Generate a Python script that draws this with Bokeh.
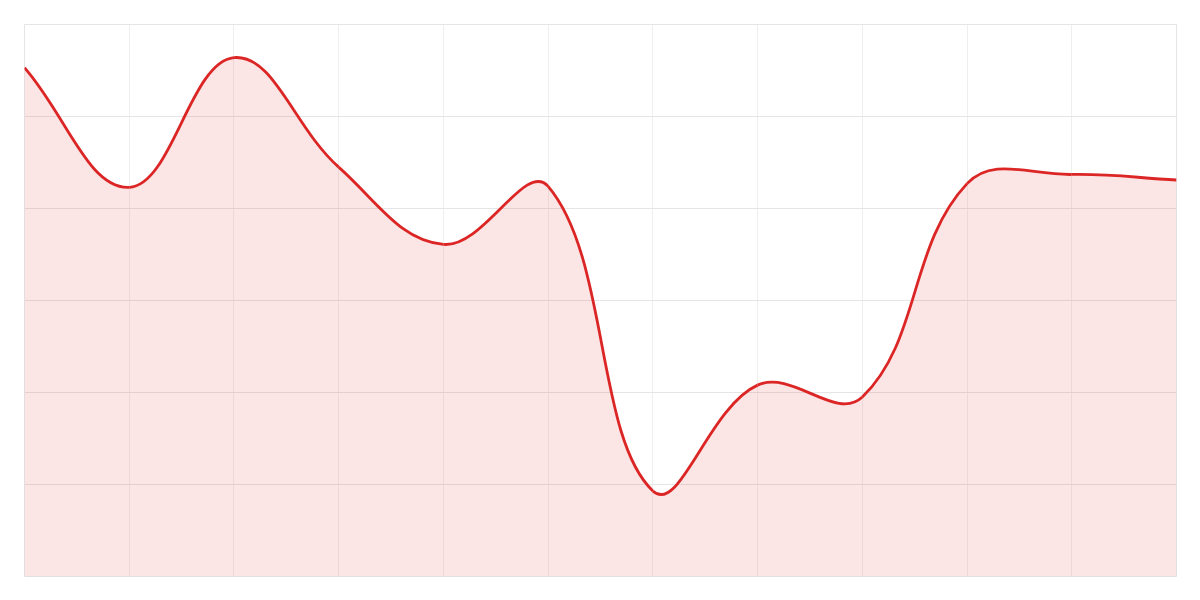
import numpy as np
from bokeh.plotting import figure
from bokeh.models import Range1d, FixedTicker
from bokeh.embed import file_html
from bokeh.resources import INLINE

# ---- data ----
labels = list(range(12))
values = [55.3, 42.3, 56.4, 44.5, 36.1, 42.4, 9.3, 20.8, 19.5, 42.7, 43.7, 43.1]
y_ticks = [0, 10, 20, 30, 40, 50, 60]

LINE = "#dc2626"
FILL = "#dc2626"
GRID = "#e5e5e5"

FRAME_W, FRAME_H = 1152, 552
X_MIN, X_MAX = 0, len(labels) - 1
Y_MIN, Y_MAX = 0, 60
sx = FRAME_W / (X_MAX - X_MIN)
sy = FRAME_H / (Y_MAX - Y_MIN)

# Chart.js-like spline (tension 0.4), control points computed in pixel space
T = 0.4
px = np.array(labels, float) * sx
py = np.array(values, float) * sy
n = len(px)
cpL = np.zeros((n, 2))
cpR = np.zeros((n, 2))
for i in range(n):
    prev = (px[i - 1], py[i - 1]) if i > 0 else (px[i], py[i])
    nxt = (px[i + 1], py[i + 1]) if i < n - 1 else (px[i], py[i])
    cur = (px[i], py[i])
    d01 = np.hypot(cur[0] - prev[0], cur[1] - prev[1])
    d12 = np.hypot(nxt[0] - cur[0], nxt[1] - cur[1])
    s01 = d01 / (d01 + d12) if (d01 + d12) else 0
    s12 = d12 / (d01 + d12) if (d01 + d12) else 0
    fa, fb = T * s01, T * s12
    cpL[i] = (cur[0] - fa * (nxt[0] - prev[0]), cur[1] - fa * (nxt[1] - prev[1]))
    cpR[i] = (cur[0] + fb * (nxt[0] - prev[0]), cur[1] + fb * (nxt[1] - prev[1]))

x0 = px[:-1] / sx; y0 = py[:-1] / sy
x1 = px[1:] / sx; y1 = py[1:] / sy
cx0 = cpR[:-1, 0] / sx; cy0 = cpR[:-1, 1] / sy
cx1 = cpL[1:, 0] / sx; cy1 = cpL[1:, 1] / sy

# sampled curve for the area fill
t = np.linspace(0, 1, 40)[:, None]
bx = ((1 - t) ** 3 * x0 + 3 * (1 - t) ** 2 * t * cx0 + 3 * (1 - t) * t ** 2 * cx1 + t ** 3 * x1).T.ravel()
by = ((1 - t) ** 3 * y0 + 3 * (1 - t) ** 2 * t * cy0 + 3 * (1 - t) * t ** 2 * cy1 + t ** 3 * y1).T.ravel()

p = figure(width=FRAME_W + 40, height=FRAME_H + 40, output_backend="svg",
           toolbar_location=None,
           x_range=Range1d(X_MIN, X_MAX), y_range=Range1d(Y_MIN, Y_MAX),
           min_border_left=24, min_border_right=16, min_border_top=24, min_border_bottom=16)
p.xaxis.visible = False
p.yaxis.visible = False
p.outline_line_color = GRID
p.outline_line_width = 1
p.background_fill_color = "white"
p.border_fill_color = "white"

p.xgrid.ticker = FixedTicker(ticks=labels)
p.ygrid.ticker = FixedTicker(ticks=y_ticks)
p.xgrid.grid_line_color = GRID
p.ygrid.grid_line_color = GRID
p.xgrid.grid_line_alpha = 0.6
p.ygrid.grid_line_alpha = 1.0

p.varea(x=bx, y1=np.zeros_like(by), y2=by, fill_color=FILL, fill_alpha=0.12)
p.bezier(x0=x0, y0=y0, x1=x1, y1=y1, cx0=cx0, cy0=cy0, cx1=cx1, cy1=cy1,
         line_color=LINE, line_width=2.8)

open("out.html", "w").write(file_html(p, INLINE))
